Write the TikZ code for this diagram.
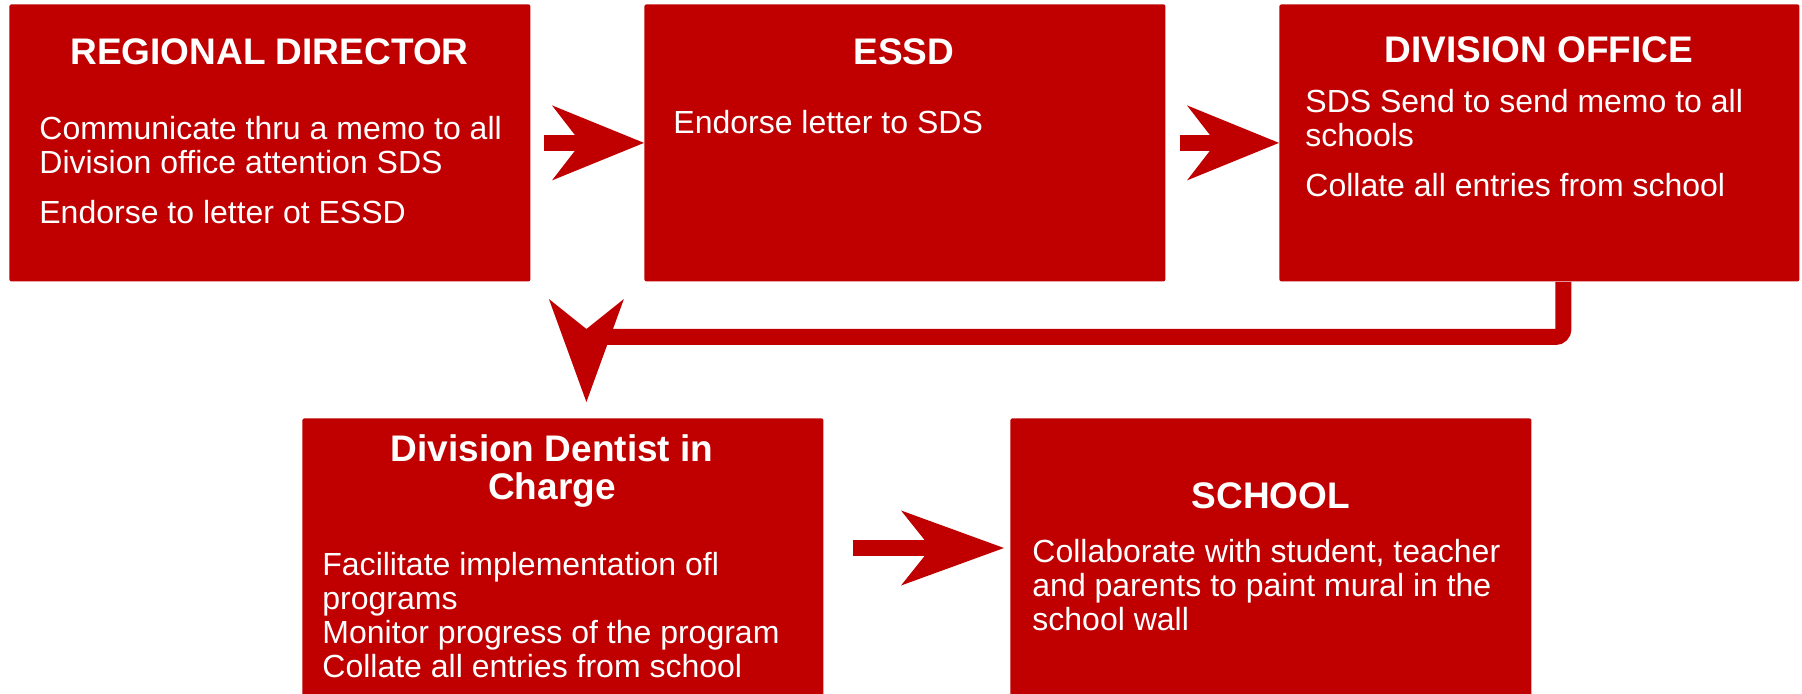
\documentclass[tikz,border=0pt]{standalone}
\usepackage{fontspec}
\setmainfont{Liberation Sans}
\usetikzlibrary{arrows.meta,calc}
\definecolor{boxred}{HTML}{C00000}
\begin{document}
\begin{tikzpicture}[x=0.5pt,y=-0.5pt,
  box/.style={fill=boxred, draw=none, rounded corners=1pt, minimum width=260.5pt, minimum height=138.5pt, inner sep=0pt, anchor=north west},
  ttl/.style={text=white, font=\fontsize{18.5}{19}\selectfont\bfseries, align=center, inner sep=0pt, anchor=base},
  txt/.style={text=white, font=\fontsize{16}{17}\selectfont, align=left, inner sep=0pt, anchor=base west},
  conn/.style={draw=boxred, line width=8pt},
  headA/.style={-{Stealth[length=46pt, width=37.5pt, inset=14.5pt, line width'=0pt]}},
  headB/.style={-{Stealth[length=51.5pt, width=37.5pt, inset=15pt, line width'=0pt]}}
]
\useasboundingbox (0,0) rectangle (1802,694);
\clip (0,0) rectangle (1802,694);

% boxes
\node[box] (rd) at (9,4) {};
\node[box] (essd) at (644,4) {};
\node[box, minimum width=260pt] (do) at (1279,4) {};
\node[box, minimum height=150pt] (ddc) at (302,418) {};
\node[box, minimum height=150pt] (sch) at (1010,418) {};

% titles (anchor = baseline of last line)
\node[ttl] (rdT) at (269.5,65) {REGIONAL DIRECTOR};
\node[ttl] (essdT) at (904,65) {ESSD};
\node[ttl] (doT) at (1539,63) {DIVISION OFFICE};
\node[ttl] (ddcT) at (552,499) {Division Dentist in\\Charge};
\node[ttl] (schT) at (1271,508) {SCHOOL};

% bodies (anchor = baseline of last line)
\node[txt] (rdB) at (39,224) {Communicate thru a memo to all\\Division office attention SDS\\[8pt]Endorse to letter ot ESSD};
\node[txt] (essdB) at (673,134) {Endorse letter to SDS};
\node[txt] (doB) at (1305,197) {SDS Send to send memo to all\\schools\\[8pt]Collate all entries from school};
\node[txt] (ddcB) at (322,677) {Facilitate implementation ofl\\programs\\Monitor progress of the program\\Collate all entries from school};
\node[txt] (schB) at (1032,630) {Collaborate with student, teacher\\and parents to paint mural in the\\school wall};

% connectors
\draw[conn, headA] ($(rd.east)+(13,0)$) -- (essd.west);
\draw[conn, headA] ($(essd.east)+(14,0)$) -- (do.west);
\coordinate (a3) at (0,548);
\draw[conn, headB] ($(ddc.east|-a3)+(29,0)$) -- ($(sch.west|-a3)+(-6,0)$);
\coordinate (bend) at ($(ddc.north)+(23.5,-81)$);
\draw[conn, rounded corners=4pt] ($(do.south)+(24,0)$) |- (bend);
\draw[conn, headB] (bend) -- ($(ddc.north)+(23.5,-16)$);
\end{tikzpicture}
\end{document}
